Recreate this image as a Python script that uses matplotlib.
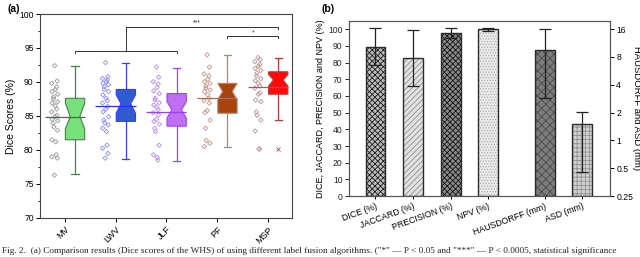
import numpy as np
import matplotlib
matplotlib.use('Agg')
import matplotlib.pyplot as plt
from matplotlib.ticker import MultipleLocator, FixedLocator, FixedFormatter, NullLocator

plt.rcParams['font.family'] = ['Liberation Sans', 'DejaVu Sans']
plt.rcParams['hatch.linewidth'] = 0.6

# ---------------- Panel (a) data ----------------
methods = ['MV', 'LWV', 'JLF', 'PF', 'MSP']
mv_pts = [92.4, 90.15, 89.8, 89.3, 88.9, 88.6, 88.2, 87.8, 87.5, 87.1, 86.9, 86.5, 86.0,
          85.6, 85.1, 84.9, 84.5, 84.3, 83.9, 83.4, 82.9, 81.5, 81.2, 79.3, 79.0, 78.8, 76.3]
lwv_pts = [92.85, 90.8, 90.5, 90.3, 90.05, 89.8, 89.6, 89.3, 88.9, 88.6, 88.1, 87.6, 87.25,
           86.9, 86.4, 86.0, 85.6, 84.9, 84.4, 84.0, 83.7, 83.2, 82.7, 80.7, 80.25, 79.5, 78.8]
jlf_pts = [92.2, 90.7, 90.05, 89.7, 89.2, 88.7, 88.3, 87.6, 87.35, 86.95, 86.6, 86.3, 85.9,
           85.5, 85.15, 84.5, 84.2, 83.8, 83.2, 82.7, 80.7, 79.3, 78.9, 78.5]
pf_pts = [94.0, 92.2, 91.2, 90.9, 90.4, 90.05, 89.8, 89.4, 89.1, 88.8, 88.6, 88.1, 87.6,
          87.25, 86.9, 85.8, 85.5, 84.4, 83.2, 81.4, 81.0, 80.5]
msp_pts = [93.6, 93.3, 93.0, 92.6, 92.35, 92.0, 91.7, 91.3, 90.9, 90.5, 90.2, 89.8, 89.4,
           89.1, 88.4, 88.2, 87.35, 87.1, 85.6, 85.1, 84.4, 82.8, 80.15, 80.15]
all_pts = [mv_pts, lwv_pts, jlf_pts, pf_pts, msp_pts]

whislo = [76.4, 78.6, 78.4, 80.5, 84.4]
q1 = [81.5, 84.2, 83.5, 85.4, 88.2]
med = [84.9, 86.8, 85.9, 88.6, 90.3]
q3 = [87.6, 88.9, 88.3, 89.8, 91.5]
whishi = [92.3, 92.85, 92.1, 93.9, 93.6]
cilo = [83.1, 85.4, 84.7, 87.4, 89.4]
cihi = [86.9, 88.1, 87.1, 89.8, 91.1]
means = [84.85, 86.45, 85.55, 87.7, 89.3]
fliers = [[], [], [], [], [80.15]]

box_face = ['#77e27a', '#2e5cd0', '#bf6ff0', '#a8430e', '#ff0a0a']
box_edge = ['#4b7c52', '#3a3aff', '#9a45f5', '#b8826f', '#c03838']
pt_color = ['#9a9a9a', '#8a8aff', '#b488ff', '#c49488', '#c09090']
mean_color = ['#3e6e4a', '#2c2cff', '#9640ff', '#a8705a', '#b05858']

# significance annotations
sig_labels = ['***', '*']

# ---------------- Panel (b) data ----------------
metric_labels = ['DICE (%)', 'JACCARD (%)', 'PRECISION (%)', 'NPV (%)', 'HAUSDORFF (mm)', 'ASD (mm)']
pct_means = [89.5, 82.7, 97.6, 99.8]
pct_err = [10.9, 16.5, 3.0, 1.1]
mm_means = [9.5, 1.5]
mm_err_low = [6.6, 1.05]
mm_err_high = [6.6, 0.55]
right_ticks = [0.25, 0.5, 1, 2, 4, 8, 16]
right_tick_labels = ['0.25', '0.5', '1', '2', '4', '8', '16']

fig = plt.figure(figsize=(6.4, 2.57), dpi=100)

# ================= Panel (a) =================
axa = fig.add_axes([0.0625, 0.152, 0.3945, 0.7935])
pos = np.arange(1, len(methods) + 1)
stats = []
for i in range(len(methods)):
    stats.append(dict(med=med[i], q1=q1[i], q3=q3[i], whislo=whislo[i], whishi=whishi[i],
                      cilo=cilo[i], cihi=cihi[i], mean=means[i], fliers=fliers[i],
                      label=methods[i]))
bp = axa.bxp(stats, positions=pos + 0.2, widths=0.38, capwidths=0.14, shownotches=True,
             patch_artist=True, showfliers=True, showmeans=False, manage_ticks=False,
             medianprops=dict(linewidth=0),
             flierprops=dict(marker='x', markersize=2.5, markeredgewidth=0.6,
                             markeredgecolor='#c04040'))
for i in range(len(methods)):
    bp['boxes'][i].set_facecolor(box_face[i])
    bp['boxes'][i].set_edgecolor(box_edge[i])
    bp['boxes'][i].set_linewidth(0.8)
    for w in bp['whiskers'][2 * i:2 * i + 2]:
        w.set_color(box_edge[i]); w.set_linewidth(0.9)
    for c in bp['caps'][2 * i:2 * i + 2]:
        c.set_color(box_edge[i]); c.set_linewidth(0.9)

for i, pts in enumerate(all_pts):
    n = len(pts)
    jit = 0.06 * np.sin(np.arange(n) * 2.3)
    axa.scatter(pos[i] - 0.2 + jit, pts, marker='D', s=5, facecolors='none',
                edgecolors=pt_color[i], linewidths=0.6, zorder=3)
    axa.hlines(means[i], pos[i] - 0.4, pos[i] + 0.39, colors=mean_color[i], linewidth=0.9, zorder=4)

lc = '#333333'
# bracket MV..JLF -> MSP
axa.plot([pos[0] + 0.2, pos[0] + 0.2, pos[2] + 0.2, pos[2] + 0.2], [94.3, 94.6, 94.6, 94.3], color=lc, lw=0.7)
axa.plot([pos[1] + 0.2, pos[1] + 0.2], [94.6, 98.1], color=lc, lw=0.7)
axa.plot([pos[1] + 0.2, pos[4] + 0.2, pos[4] + 0.2], [98.1, 98.1, 97.8], color=lc, lw=0.7)
axa.plot([pos[3] + 0.2, pos[3] + 0.2, pos[4] + 0.2, pos[4] + 0.2], [96.4, 96.7, 96.7, 96.4], color=lc, lw=0.7)
axa.text(3.6, 98.2, sig_labels[0], ha='center', va='bottom', fontsize=5, color=lc)
axa.text(4.7, 96.75, sig_labels[1], ha='center', va='bottom', fontsize=5, color=lc)

axa.set_xlim(0.51, 5.48)
axa.set_ylim(70, 100)
axa.yaxis.set_major_locator(MultipleLocator(5))
axa.yaxis.set_minor_locator(MultipleLocator(2.5))
axa.set_xticks(pos)
axa.set_xticklabels(methods, rotation=45, ha='right', rotation_mode='anchor', fontsize=6.5)
axa.tick_params(axis='y', labelsize=6.2, length=3, width=0.7, direction='out', pad=1.5)
axa.tick_params(axis='y', which='minor', length=1.8, width=0.6)
axa.tick_params(axis='x', length=3, width=0.7, pad=2)
axa.set_ylabel('Dice Scores (%)', fontsize=7.5, labelpad=2)
for s in axa.spines.values():
    s.set_color('#444444'); s.set_linewidth(0.8)
fig.text(0.011, 0.985, '(a)', fontsize=7.5, fontweight='bold', va='top', ha='left')

# ================= Panel (b) =================
axb = fig.add_axes([0.545, 0.237, 0.408, 0.682])
xp = np.array([0, 1, 2, 3])
xm = np.array([4.5, 5.5])
bw = 0.53
pct_style = [dict(fc='#bcbcbc', hatch='xxxxxx', hc='#1e1e1e'),
             dict(fc='#e2e2e2', hatch='//////', hc='#8e8e8e'),
             dict(fc='#8a8a8a', hatch='xxxxxx', hc='#151515'),
             dict(fc='#eaeaea', hatch='......', hc='#b0b0b0')]
mm_style = [dict(fc='#7c7c7c', hatch='xxxx', hc='#4a4a4a'),
            dict(fc='#d0d0d0', hatch='++++', hc='#909090')]

for i in range(len(pct_means)):
    st = pct_style[i]
    axb.bar(xp[i], pct_means[i], width=bw, color=st['fc'], hatch=st['hatch'],
            edgecolor=st['hc'], linewidth=0, zorder=2)
    axb.bar(xp[i], pct_means[i], width=bw, fill=False, edgecolor='#2a2a2a', linewidth=1.0, zorder=3)
axb.errorbar(xp, pct_means, yerr=pct_err, fmt='none', ecolor='#222222', elinewidth=0.9,
             capsize=4, capthick=0.9, zorder=4)

axb.set_xlim(-0.71, 6.24)
axb.set_ylim(0, 105)
axb.yaxis.set_major_locator(MultipleLocator(10))
axb.set_xticks(np.concatenate([xp, xm]))
axb.set_xticklabels(metric_labels, rotation=20, ha='right', rotation_mode='anchor', fontsize=6.3)
axb.tick_params(axis='y', labelsize=6.2, length=3, width=0.7, pad=1.5, colors='#222222')
axb.tick_params(axis='x', length=2.5, width=0.7, pad=1.5)
axb.set_ylabel('DICE, JACCARD, PRECISION and NPV (%)', fontsize=6.5, labelpad=2)

ax2 = axb.twinx()
ax2.set_yscale('log', base=2)
ax2.set_ylim(0.25, 16 * 2 ** 0.3)
for i in range(len(mm_means)):
    st = mm_style[i]
    ax2.bar(xm[i], mm_means[i] - 0.25, bottom=0.25, width=bw, color=st['fc'], hatch=st['hatch'],
            edgecolor=st['hc'], linewidth=0, zorder=2)
    ax2.bar(xm[i], mm_means[i] - 0.25, bottom=0.25, width=bw, fill=False, edgecolor='#2a2a2a',
            linewidth=1.0, zorder=3)
ax2.errorbar(xm, mm_means, yerr=[mm_err_low, mm_err_high], fmt='none', ecolor='#222222',
             elinewidth=0.9, capsize=4, capthick=0.9, zorder=4)
ax2.yaxis.set_major_locator(FixedLocator(right_ticks))
ax2.yaxis.set_major_formatter(FixedFormatter(right_tick_labels))
ax2.yaxis.set_minor_locator(NullLocator())
ax2.tick_params(axis='y', labelsize=6.2, length=3, width=0.7, pad=1.5)
ax2.set_ylabel('HAUSDORFF and ASD (mm)', fontsize=6.8, rotation=270, labelpad=6)
for a in (axb, ax2):
    for s in a.spines.values():
        s.set_color('#555555'); s.set_linewidth(0.8)
fig.text(0.503, 0.985, '(b)', fontsize=7.5, fontweight='bold', va='top', ha='left')

# caption (at the bottom of the image)
caption = ('Fig. 2.  (a) Comparison results (Dice scores of the WHS) of using different label fusion '
           'algorithms. ("*" \u2014 P < 0.05 and "***" \u2014 P < 0.0005, statistical significance')
fig.text(0.003, 0.006, caption, va='bottom', ha='left', fontsize=6.7,
         family=['Liberation Serif', 'DejaVu Serif'], color='#222222')

fig.savefig('out.png', dpi=100)
